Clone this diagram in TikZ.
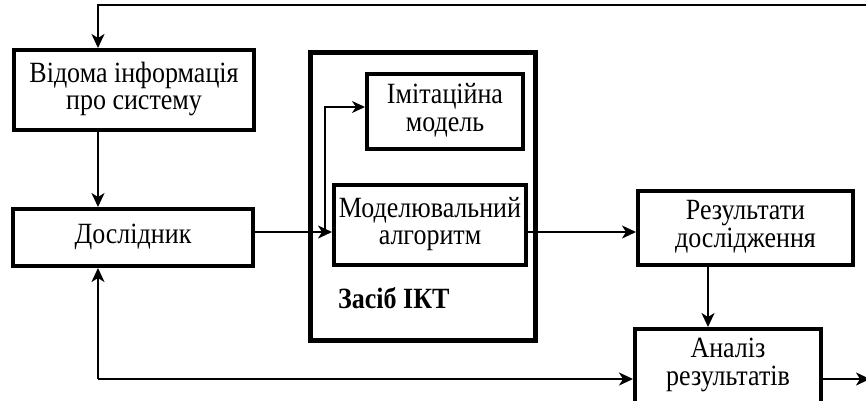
\documentclass[tikz,border=0pt]{standalone}
\usepackage{fontspec}
\setmainfont{Liberation Serif}
\usetikzlibrary{arrows.meta}
\newcommand{\tallt}[1]{\scalebox{1}[1.13]{\fontsize{26}{24.5}\selectfont\begin{tabular}{@{}c@{}}#1\end{tabular}}}
\begin{document}
\begin{tikzpicture}[x=1pt,y=-1pt,
  box/.style={draw,line width=4pt,inner sep=0pt,align=center},
  conn/.style={line width=1.8pt,-{Stealth[length=14pt,width=13pt,inset=4pt]}},
  thinconn/.style={line width=1.3pt,-{Stealth[length=13pt,width=12pt,inset=4pt]}}]
\clip (0,0) rectangle (866,400);
\node[box,minimum width=240pt,minimum height=80pt] (info) at (134,90) {\tallt{Відома інформація\\про систему}};
\node[box,minimum width=240pt,minimum height=57pt] (dos) at (133,237.5) {\tallt{Дослідник}};
\node[draw,line width=5pt,minimum width=225pt,minimum height=288pt,inner sep=0pt] (ict) at (423,196.5) {};
\node[box,minimum width=156pt,minimum height=75pt] (imit) at (445,111.5) {\tallt{Імітаційна\\модель}};
\node[box,minimum width=192pt,minimum height=80pt] (alg) at (430,225) {\tallt{Моделювальний\\алгоритм}};
\node[anchor=west,inner sep=0pt] (ictlbl) at (338,298) {\scalebox{1}[1.13]{\fontsize{26}{24.5}\selectfont\bfseries Засіб ІКТ}};
\node[box,minimum width=215pt,minimum height=74pt] (res) at (745.5,228) {\tallt{Результати\\дослідження}};
\node[box,minimum width=186pt,minimum height=74pt] (an) at (728,366) {\tallt{Аналіз\\результатів}};
\coordinate (topR) at (868,5);
\coordinate (c98) at (98,0);
\coordinate (c708) at (708,0);
\coordinate (ya) at (0,232);
\coordinate (yb) at (0,107);
\coordinate (yc) at (0,379);
\coordinate (br) at (325,232);
\coordinate (outR) at (870,379);
\draw[conn] (topR) -| (info.north -| c98);
\draw[conn] (info.south -| c98) -- (dos.north -| c98);
\draw[conn] (dos.east |- ya) -- (alg.west |- ya);
\draw[thinconn] (br) |- (imit.west |- yb);
\draw[conn] (alg.east |- ya) -- (res.west |- ya);
\draw[conn] (res.south -| c708) -- (an.north -| c708);
\draw[conn] (c98 |- yc) -- (an.west |- yc);
\draw[conn] (c98 |- yc) -- (dos.south -| c98);
\draw[conn] (an.east |- yc) -- (outR);
\end{tikzpicture}
\end{document}
